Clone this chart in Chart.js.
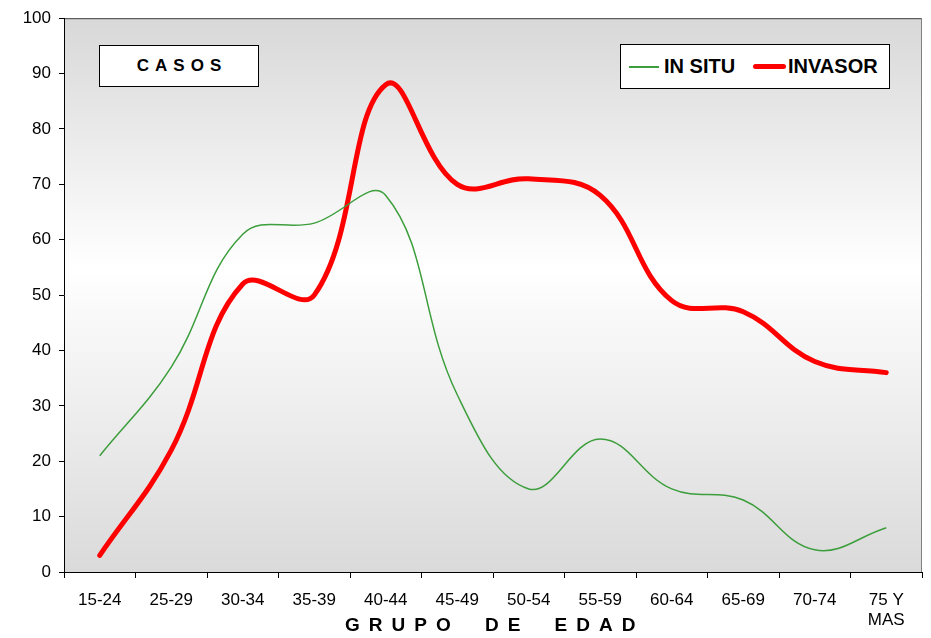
<!DOCTYPE html>
<html><head><meta charset="utf-8">
<script src="https://cdn.jsdelivr.net/npm/chart.js@4.4.0/dist/chart.umd.min.js"></script>
<style>
html,body{margin:0;padding:0;background:#fff;}
#wrap{position:relative;width:931px;height:638px;}
canvas{position:absolute;left:0;top:0;}
.box{position:absolute;background:#fff;border:1px solid #000;font-family:"Liberation Sans",Arial,sans-serif;font-weight:bold;color:#000;box-sizing:border-box;}
#title{left:99px;top:45px;width:160px;height:42px;font-size:17px;letter-spacing:6px;text-align:center;line-height:40px;padding-left:6px;}
#legend{left:620px;top:44px;width:270px;height:45px;font-size:20px;}
#legend span{position:absolute;white-space:nowrap;}
.txt{top:0;line-height:43px;}
#xt{position:absolute;left:345px;top:615px;white-space:nowrap;font-family:"Liberation Sans",Arial,sans-serif;font-weight:bold;font-size:19px;line-height:20px;letter-spacing:9px;word-spacing:11px;}
</style></head>
<body><div id="wrap">
<canvas id="c" width="931" height="638"></canvas>
<div id="title" class="box">CASOS</div>
<div id="legend" class="box">
<span style="left:8px;top:21px;width:30px;height:2px;background:#3c9e3c"></span>
<span class="txt" style="left:43px">IN SITU</span>
<span style="left:132px;top:19px;width:33px;height:5px;border-radius:3px;background:#ff0000"></span>
<span class="txt" style="left:167px">INVASOR</span>
</div>
<div id="xt">GRUPO DE EDAD</div>
</div>
<script>
const categories = ["15-24","25-29","30-34","35-39","40-44","45-49","50-54","55-59","60-64","65-69","70-74",["75 Y","MAS"]];
const inSitu = [21,37,61,63,68,32,15,24,15,13,4,8];
const invasor = [3,22,52,50,88,70,71,68,49,47,38,36];
const yTicks = {min:0,max:100,step:10};

const bgPlugin = {
  id:'bg',
  beforeDraw(chart){
    const {ctx,chartArea:a} = chart;
    const g = ctx.createLinearGradient(0,a.top,0,a.bottom);
    g.addColorStop(0,'#d8d8d8');
    g.addColorStop(0.45,'#ffffff');
    g.addColorStop(1,'#dadada');
    ctx.save();
    ctx.fillStyle = g;
    ctx.fillRect(a.left,a.top,a.right-a.left,a.bottom-a.top);
    ctx.strokeStyle='#404040';ctx.lineWidth=1;
    ctx.beginPath();ctx.moveTo(a.left,a.top+0.5);ctx.lineTo(a.right,a.top+0.5);ctx.stroke();
    ctx.strokeStyle='#808080';
    ctx.beginPath();ctx.moveTo(a.right-0.5,a.top);ctx.lineTo(a.right-0.5,a.bottom);ctx.stroke();
    ctx.restore();
  }
};

new Chart(document.getElementById('c'),{
  type:'line',
  data:{labels:categories,datasets:[
    {label:'IN SITU',data:inSitu,borderColor:'#3c9e3c',borderWidth:1.5,pointRadius:0,tension:0.4},
    {label:'INVASOR',data:invasor,borderColor:'#ff0000',borderWidth:5,pointRadius:0,tension:0.4,borderCapStyle:'round'}
  ]},
  options:{
    responsive:false,animation:false,
    layout:{padding:{left:0,right:9,top:15,bottom:0}},
    plugins:{legend:{display:false},tooltip:{enabled:false}},
    scales:{
      x:{offset:true,
        grid:{offset:true,drawOnChartArea:false,tickLength:6,color:'#000'},
        border:{color:'#000',width:1},
        ticks:{color:'#000',font:{family:'"Liberation Sans",Arial',size:17,lineHeight:1.2},maxRotation:0,autoSkip:false,padding:12},
        afterFit(s){s.height=66;}
      },
      y:{min:yTicks.min,max:yTicks.max,
        grid:{drawOnChartArea:false,tickLength:5,color:'#000'},
        border:{color:'#000',width:1},
        ticks:{stepSize:yTicks.step,color:'#000',font:{family:'"Liberation Sans",Arial',size:17},padding:8},
        afterFit(s){s.width=64;}
      }
    }
  },
  plugins:[bgPlugin]
});
</script>
</body></html>
